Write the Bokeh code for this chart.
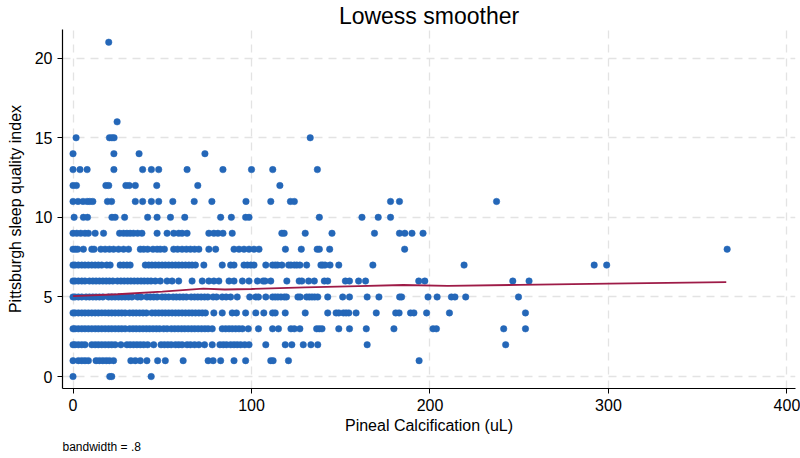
from bokeh.plotting import figure
from bokeh.models import FixedTicker, Title, Range1d, ColumnDataSource
from bokeh.embed import file_html
from bokeh.resources import INLINE

# Pittsburgh sleep quality index (y) -> pineal calcification values (x) observed at that score
psqi_0 = [0, 20.6, 21.7, 43.8]
psqi_1 = [0, 3, 4.9, 6.7, 8.6, 12.9, 14.8, 16.7, 18.6, 20.4, 22.7, 32.4, 34.9, 37.7, 41.4, 47.4,
          51.7, 61.7, 75.7, 78.5, 82.7, 90.2, 96.7, 110.8, 112.1, 120.7, 193.9]
psqi_2 = [0, 1.1, 3, 4.9, 6.7, 10.5, 12.4, 14.2, 16.1, 18, 19.9, 21.7, 23.6, 26.8, 30.2, 32, 33.9,
          35.8, 37.7, 39.6, 41.8, 45.2, 49.3, 51.2, 53.1, 55, 57.4, 59.2, 61.1, 63.9, 65.8, 68.1,
          70.5, 73.7, 78, 82.3, 84.2, 86, 88.3, 90.2, 92, 93.9, 96.2, 98.6, 108, 118.9, 122.6, 129,
          133.3, 137.1, 164.8, 242.4]
psqi_3 = [0, 1.1, 3, 4.9, 6.7, 8.6, 10.5, 12.4, 14.2, 16.1, 18, 19.9, 21.7, 23.6, 25.5, 27.3, 29.2,
          31.7, 33.6, 35.4, 37.3, 39.2, 41.1, 42.9, 44.8, 46.7, 48.5, 50.8, 52.7, 55.1, 57, 58.9,
          60.8, 62.6, 64.5, 66.4, 68.2, 70.1, 72, 73.9, 75.7, 78, 83.6, 85.5, 87.4, 89.2, 91.1, 93,
          94.9, 98.2, 103.9, 111.8, 115.1, 122.1, 124, 127.1, 136.5, 138, 139.5, 148.9, 154.9,
          164.3, 179.8, 201.7, 203.6, 241.3, 253.5]
psqi_4 = [0, 1.1, 3, 4.9, 6.7, 8.6, 10.5, 12.4, 14.2, 16.1, 18, 19.9, 21.7, 23.6, 25.5, 27.3, 29.2,
          31.7, 33.6, 35.4, 37.3, 39.2, 41.1, 44.2, 46.1, 48, 49.9, 51.7, 53.6, 55.5, 57.4, 59.2,
          61.1, 63, 64.9, 66.7, 68.6, 70.5, 72.4, 74.2, 78.9, 83.6, 89.2, 91.6, 96.7, 102.4, 106.9,
          111.8, 113.3, 118.9, 130.1, 142.7, 147.4, 148.9, 151.5, 153, 154.5, 158.6, 169.9, 180.8,
          182.7, 189.1, 191, 198.1, 210.9, 253.5]
psqi_5 = [0, 1.1, 3, 4.9, 7.3, 9.2, 11.1, 12.9, 14.8, 16.7, 19.9, 21.7, 23.6, 25.5, 27.3, 29.2, 31.1,
          33, 36.2, 38.1, 41.4, 43.3, 45.2, 47.1, 49.9, 51.7, 53.6, 56.1, 57.9, 59.8, 61.7, 63.5,
          66.2, 68.1, 69.9, 71.8, 73.7, 75.5, 78.5, 80.4, 83.6, 85.8, 88.3, 92, 99, 102.4, 103.9,
          108, 111.8, 113.3, 114.8, 116.5, 118.4, 119.6, 126, 127.3, 130.9, 132.4, 133.9, 135.4,
          137.1, 142.7, 151.1, 154.9, 164.8, 171.4, 183, 184.1, 198.9, 204, 212, 214, 220, 249.6]
psqi_6 = [0, 1.1, 3, 4.9, 6.7, 9.2, 11.1, 12.9, 14.8, 16.7, 18.6, 20.4, 22.3, 24.9, 26.8, 28.7, 30.6,
          32.4, 34.3, 36.2, 38.1, 39.9, 41.8, 43.7, 46.1, 48.9, 52.7, 55.5, 59.2, 66.7, 72.4, 76.1,
          78.9, 81.7, 87.4, 90.2, 94.9, 98.6, 103.3, 106.5, 107.6, 110.8, 119.8, 126.7, 128.2, 132,
          135.2, 140.8, 142.7, 152.6, 154.9, 160, 163.9, 193.7, 197.1, 246.4, 255.5]
psqi_7 = [0, 1.1, 3, 4.9, 6.7, 8.6, 10.5, 12.4, 14.2, 16.1, 18.9, 20.8, 26.4, 28.3, 30.2, 32, 40.5,
          42.4, 44.2, 46.1, 48, 49.9, 51.7, 53.6, 55.5, 57.4, 59.2, 61.1, 63, 64.9, 66.7, 68.6, 73.3,
          83.6, 88.3, 90.2, 95.8, 97.7, 99.6, 101.4, 108, 111.8, 113.3, 114.6, 117, 120.8, 122.1,
          124, 125.4, 127.1, 130.9, 138.9, 139.9, 141.2, 144, 148.9, 168, 219.1, 292, 299]
psqi_8 = [0, 1.3, 2.6, 5.8, 10.5, 11.8, 15.6, 18, 20.4, 22.7, 25.5, 28.3, 31.1, 37.7, 39.6, 41.8,
          44.8, 47.1, 48.9, 51.2, 56.4, 58.6, 61.1, 63.5, 65.8, 68.1, 70.5, 76.1, 79.9, 90.2, 93,
          95.8, 98.6, 101.4, 104.2, 119, 127.9, 136.8, 138, 143.8, 185.8, 366.5]
psqi_9 = [0, 2.1, 4.3, 6.7, 8.6, 12.4, 17.1, 26.1, 28.3, 30.2, 32, 33.9, 36.2, 38.6, 47.1, 52.7, 56.4,
          59.2, 61.1, 63.9, 76.1, 78.9, 81.2, 84, 89.2, 117, 118.3, 130.1, 145.1, 168.9, 182.9,
          185.9, 189.9, 196.1]
psqi_10 = [0.6, 5.8, 8.1, 21.8, 23.6, 28.9, 41.8, 47.1, 54.6, 62.6, 82.7, 88.7, 96.7, 98.6, 138,
           161.9, 171, 177.9]
psqi_11 = [0, 2.8, 5.6, 7.9, 9.4, 11.1, 19.3, 21.6, 34.9, 39, 43.9, 48, 55.9, 67.9, 77.8, 96.9,
           110.8, 121.8, 124, 177.9, 182.9, 237.3]
psqi_12 = [0, 1.9, 18.4, 20, 29.6, 31.5, 34.9, 46.9, 69.9, 115.9]
psqi_13 = [0, 3.9, 7.9, 22.9, 39, 43.9, 48, 63.9, 84, 100, 111.9, 136.9]
psqi_14 = [0, 22.9, 37, 73.9]
psqi_15 = [1.7, 20.4, 21.8, 23, 132.9]
psqi_16 = [24.7]
psqi_21 = [20]

rows = {0: psqi_0, 1: psqi_1, 2: psqi_2, 3: psqi_3, 4: psqi_4, 5: psqi_5, 6: psqi_6,
        7: psqi_7, 8: psqi_8, 9: psqi_9, 10: psqi_10, 11: psqi_11, 12: psqi_12,
        13: psqi_13, 14: psqi_14, 15: psqi_15, 16: psqi_16, 21: psqi_21}

# lowess curve
lowess_x = [0, 25, 50, 73, 85, 100, 130, 160, 185, 210, 250, 300, 366]
lowess_y = [5.05, 5.17, 5.33, 5.52, 5.47, 5.5, 5.6, 5.68, 5.75, 5.7, 5.76, 5.84, 5.93]

x_ticks = [0, 100, 200, 300, 400]
y_ticks = [0, 5, 10, 15, 20]

xs, ys = [], []
for score, vals in rows.items():
    xs.extend(vals)
    ys.extend([score] * len(vals))
src = ColumnDataSource(data=dict(x=xs, y=ys))

FONT = "Liberation Sans"

p = figure(width=800, height=458, output_backend="svg", toolbar_location=None,
           x_range=Range1d(-5.9, 404.8), y_range=Range1d(-0.75, 21.8),
           min_border_left=62, min_border_right=5, min_border_top=29, min_border_bottom=70)

p.title.text = "Lowess smoother"
p.title.align = "center"
p.title.text_font = FONT
p.title.text_font_size = "23px"
p.title.text_font_style = "normal"
p.title.text_color = "black"
p.title.standoff = 1

p.outline_line_color = None
p.background_fill_color = "white"
p.border_fill_color = "white"

for g in (p.xgrid, p.ygrid):
    g.grid_line_color = "#e3e3e3"
    g.grid_line_width = 1.3
    g.grid_line_dash = "8 6"
p.xgrid.ticker = FixedTicker(ticks=x_ticks)
p.ygrid.ticker = FixedTicker(ticks=y_ticks)

p.xaxis.ticker = FixedTicker(ticks=x_ticks)
p.yaxis.ticker = FixedTicker(ticks=y_ticks)
for ax in (p.xaxis, p.yaxis):
    ax.axis_line_color = "black"
    ax.axis_line_width = 1.2
    ax.major_tick_line_color = "black"
    ax.major_tick_out = 5
    ax.major_tick_in = 0
    ax.minor_tick_line_color = None
    ax.major_label_text_font = FONT
    ax.major_label_text_font_size = "16px"
    ax.major_label_text_color = "black"
    ax.axis_label_text_font = FONT
    ax.axis_label_text_font_size = "16px"
    ax.axis_label_text_font_style = "normal"
    ax.axis_label_text_color = "black"
p.xaxis.axis_label = "Pineal Calcification (uL)"
p.yaxis.axis_label = "Pittsburgh sleep quality index"
p.xaxis.major_label_standoff = 5
p.xaxis.axis_label_standoff = 3
p.yaxis.major_label_standoff = 5
p.yaxis.axis_label_standoff = 8

p.scatter("x", "y", source=src, size=6.5, fill_color="#2467b8", line_color="#2467b8",
          line_width=0.5)
p.line(lowess_x, lowess_y, line_color="#9e1b47", line_width=1.8)

note = Title(text="bandwidth = .8", align="left", text_font=FONT, text_font_size="12px",
             text_font_style="normal", text_color="black", standoff=2)
p.add_layout(note, "below")

open("out.html", "w").write(file_html(p, INLINE))
